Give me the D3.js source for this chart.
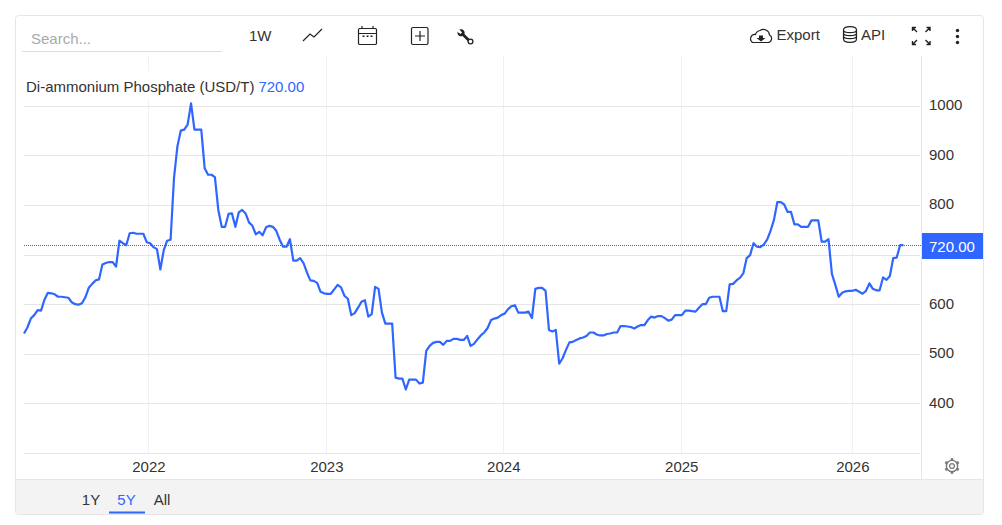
<!DOCTYPE html>
<html>
<head>
<meta charset="utf-8">
<script src="https://cdn.jsdelivr.net/npm/d3@7"></script>
<style>
  html, body { margin: 0; padding: 0; background: #fff; }
  svg { display: block; }
  text { font-family: "Liberation Sans", Arial, sans-serif; }
  .axis path, .axis line { display: none; }
</style>
</head>
<body>
<svg id="chart" width="1002" height="525"></svg>
<script>
const title = 'Di-ammonium Phosphate (USD/T)';
const lastLabel = '720.00';
const lastValue = 720;

// weekly closes
const values = [
  542, 554, 572, 579, 589, 588, 610, 624, 623, 621, 616, 616, 615, 614, 605, 601, 600, 603, 615, 634,
  642, 649, 651, 681, 684, 686, 686, 677, 729, 724, 720, 744, 745, 743, 743, 743, 726, 724, 716, 712,
  671, 710, 729, 731, 855, 919, 951, 953, 963, 1006, 953, 953, 953, 875, 862, 862, 857, 791, 757, 757,
  783, 784, 757, 786, 791, 784, 766, 759, 742, 747, 740, 756, 759, 757, 749, 731, 717, 717, 732, 689,
  689, 694, 684, 665, 649, 648, 644, 626, 623, 622, 622, 631, 640, 635, 618, 612, 579, 583, 594, 606,
  609, 576, 581, 636, 632, 584, 562, 562, 562, 453, 451, 451, 429, 449, 449, 449, 441, 443, 507, 517,
  523, 525, 525, 519, 527, 527, 531, 531, 529, 529, 537, 517, 521, 530, 538, 544, 553, 569, 572, 574,
  579, 582, 591, 597, 599, 584, 584, 584, 586, 573, 632, 634, 634, 628, 549, 546, 549, 481, 492, 509,
  524, 525, 529, 532, 534, 537, 544, 544, 540, 538, 538, 541, 542, 544, 544, 557, 557, 556, 555, 552,
  556, 559, 559, 569, 576, 574, 577, 577, 573, 568, 570, 579, 579, 579, 588, 588, 587, 586, 594, 601,
  601, 614, 616, 616, 616, 587, 587, 641, 642, 649, 654, 663, 694, 700, 724, 717, 716, 721, 731, 749,
  771, 807, 807, 802, 787, 787, 762, 762, 757, 757, 757, 770, 770, 770, 727, 727, 732, 662, 640, 616,
  624, 627, 628, 628, 630, 626, 622, 628, 643, 632, 629, 629, 655, 650, 658, 694, 695, 720, 720
];

const yearLabels = ['2022', '2023', '2024', '2025', '2026'];
const yearWeeks = [36.5, 88.7, 140.6, 192.8, 243];
const yGrid = [300, 400, 500, 600, 700, 800, 900, 1000];
const yLabels = [400, 500, 600, 800, 900, 1000];
const rangeTabs = ['1Y', '5Y', 'All'];

const BLUE = '#2f66ff';
const GRID = '#e6e6e6';
const INK = '#333';

const svg = d3.select('#chart');

const x = d3.scaleLinear().domain([0, values.length - 1]).range([24, 903.5]);
const y = d3.scaleLinear().domain([300, 1000]).range([453.5, 106.3]);

// card
svg.append('rect')
  .attr('x', 15.5).attr('y', 15.5).attr('width', 968).attr('height', 499)
  .attr('rx', 3).attr('fill', '#fff').attr('stroke', GRID);

// range selector strip
svg.append('path')
  .attr('d', 'M16,479.5H983V511a3,3 0 0 1 -3,3H19a3,3 0 0 1 -3,-3Z')
  .attr('fill', '#f3f3f3');
svg.append('line')
  .attr('x1', 16).attr('x2', 983).attr('y1', 479.5).attr('y2', 479.5)
  .attr('stroke', GRID);

// grid
svg.append('g').selectAll('line').data(yearWeeks).join('line')
  .attr('x1', d => Math.floor(x(d)) + 0.5).attr('x2', d => Math.floor(x(d)) + 0.5)
  .attr('y1', 56).attr('y2', 453)
  .attr('stroke', '#eef2f7');

svg.append('g').selectAll('line').data(yGrid).join('line')
  .attr('x1', 24).attr('x2', 920)
  .attr('y1', d => Math.floor(y(d)) + 0.5).attr('y2', d => Math.floor(y(d)) + 0.5)
  .attr('stroke', GRID);

svg.append('line')
  .attr('x1', 921.5).attr('x2', 921.5).attr('y1', 56).attr('y2', 479)
  .attr('stroke', GRID);

// title sits on a white plate that cuts the grid
svg.append('rect')
  .attr('x', 24).attr('y', 71).attr('width', 282).attr('height', 28)
  .attr('fill', '#fff');
const titleText = svg.append('text')
  .attr('x', 26).attr('y', 92)
  .attr('font-size', 15).attr('fill', INK);
titleText.append('tspan').text(title);
titleText.append('tspan').attr('dx', 4).attr('fill', BLUE).text(lastLabel);

// last value line
svg.append('line')
  .attr('x1', 24).attr('x2', 922)
  .attr('y1', Math.floor(y(lastValue)) + 0.5).attr('y2', Math.floor(y(lastValue)) + 0.5)
  .attr('stroke', '#2f6bff').attr('stroke-dasharray', '1,1')
  .attr('shape-rendering', 'crispEdges');

// series
const line = d3.line().x((d, i) => x(i)).y(d => y(d));
svg.append('path')
  .datum(values)
  .attr('d', line)
  .attr('fill', 'none')
  .attr('stroke', BLUE)
  .attr('stroke-width', 2.2)
  .attr('stroke-linejoin', 'round');

// axes
const yAxis = svg.append('g')
  .attr('class', 'axis')
  .attr('transform', 'translate(929,0)')
  .call(d3.axisRight(y).tickValues(yLabels).tickFormat(d3.format('d')).tickSize(0).tickPadding(0));
yAxis.selectAll('text')
  .attr('font-size', 15).attr('fill', INK)
  .attr('dy', '0.22em')
  .style('font-family', '"Liberation Sans", Arial, sans-serif');

const xAxis = svg.append('g')
  .attr('class', 'axis')
  .attr('transform', 'translate(0,461)')
  .call(d3.axisBottom(x).tickValues(yearWeeks).tickFormat((d, i) => yearLabels[i]).tickSize(0).tickPadding(0));
xAxis.selectAll('text')
  .attr('font-size', 15).attr('fill', INK)
  .style('font-family', '"Liberation Sans", Arial, sans-serif');

// last value tag
svg.append('rect')
  .attr('x', 922).attr('y', 233).attr('width', 61).attr('height', 26)
  .attr('fill', BLUE);
svg.append('text')
  .attr('x', 929).attr('y', 252)
  .attr('font-size', 15).attr('fill', '#fff')
  .text(lastLabel);

// search box
svg.append('text')
  .attr('x', 31).attr('y', 44)
  .attr('font-size', 15).attr('fill', '#aaa')
  .text('Search...');
svg.append('line')
  .attr('x1', 22).attr('x2', 222).attr('y1', 51.5).attr('y2', 51.5)
  .attr('stroke', '#ddd');

// toolbar
function addToolbarText(xPos, yPos, label) {
  svg.append('text')
    .attr('x', xPos).attr('y', yPos)
    .attr('font-size', 15).attr('fill', INK)
    .text(label);
}

function addIcon(d, width) {
  svg.append('path')
    .attr('d', d)
    .attr('fill', 'none')
    .attr('stroke', '#222')
    .attr('stroke-width', width || 1.2);
}

addToolbarText(249, 41, '1W');
addToolbarText(776.5, 40, 'Export');
addToolbarText(861, 40, 'API');

// trend line
addIcon('M303,41L310,34L314,37L322,29');
// calendar
addIcon('M359.5,28.5H375.5A1.5,1.5 0 0 1 376.5,30V43.5A1.5,1.5 0 0 1 375,44.5H360A1.5,1.5 0 0 1 358.5,43.5V30A1.5,1.5 0 0 1 359.5,28.5ZM358.5,33.5H376.5M362,26V28.5M373,26V28.5');
svg.append('g').selectAll('rect').data([362.5, 366.5, 370.5]).join('rect')
  .attr('x', d => d).attr('y', 35.5).attr('width', 2).attr('height', 1.5).attr('fill', '#222');
// add box
addIcon('M413,27.5H426.5A1.5,1.5 0 0 1 428,29V43A1.5,1.5 0 0 1 426.5,44.5H413A1.5,1.5 0 0 1 411.5,43V29A1.5,1.5 0 0 1 413,27.5ZM420,31V41M415,36H425');
// wrench
svg.append('path')
  .attr('d', 'M457.5,32L460.5,34L462,32.5L459.5,29.5C462,28.5 465.5,30.5 464.5,34L470,39.5L468,41.5L462.5,36C459.5,37 457,35 457.5,32Z')
  .attr('fill', '#222');
svg.append('circle').attr('cx', 470.5).attr('cy', 41.5).attr('r', 2.4)
  .attr('fill', '#fff').attr('stroke', '#222').attr('stroke-width', 1.3);
// cloud
addIcon('M752.5,42.5H767.5A4,4 0 0 0 769.5,35A6,6 0 0 0 760,30.5A5.5,5.5 0 0 0 755.5,34.5A4.4,4.4 0 0 0 752.5,42.5Z');
svg.append('path').attr('d', 'M759,35.5H763V38H765.5L761,41.5L756.5,38H759Z').attr('fill', '#222');
// database
addIcon('M843.5,30C843.5,25.5 856.5,25.5 856.5,30V39C856.5,43.5 843.5,43.5 843.5,39ZM843.5,30C843.5,33.5 856.5,33.5 856.5,30M843.5,33C843.5,36.5 856.5,36.5 856.5,33M843.5,36C843.5,39.5 856.5,39.5 856.5,36');
// fullscreen corners
addIcon('M912.5,31V27.5H916M913,28L917,32M930,31V27.5H926.5M929.5,28L925.5,32M912.5,41V44.5H916M913,44L917,40M930,41V44.5H926.5M929.5,44L925.5,40', 1.4);
// kebab
svg.append('g').selectAll('circle').data([30.5, 36.5, 42.5]).join('circle')
  .attr('cx', 957.5).attr('cy', d => d).attr('r', 1.7).attr('fill', '#222');

// gear
const gear = svg.append('g').attr('transform', 'translate(952,466)');
gear.append('circle').attr('r', 5.6).attr('fill', 'none').attr('stroke', '#777').attr('stroke-width', 1.4);
gear.append('circle').attr('r', 2.4).attr('fill', 'none').attr('stroke', '#777').attr('stroke-width', 1.3);
gear.append('g').selectAll('line').data([0, 60, 120, 180, 240, 300]).join('line')
  .attr('y1', -5.6).attr('y2', -7.8)
  .attr('transform', d => `rotate(${d})`)
  .attr('stroke', '#777').attr('stroke-width', 2.6);

// range tabs
const tabX = d3.scalePoint().domain(rangeTabs).range([91, 162]);
svg.append('g').selectAll('text').data(rangeTabs).join('text')
  .attr('x', d => tabX(d)).attr('y', 505)
  .attr('text-anchor', 'middle')
  .attr('font-size', 15)
  .attr('fill', d => d === '5Y' ? BLUE : INK)
  .text(d => d);
svg.append('rect')
  .attr('x', 109).attr('y', 511.5).attr('width', 36).attr('height', 2)
  .attr('fill', BLUE);
</script>
</body>
</html>
